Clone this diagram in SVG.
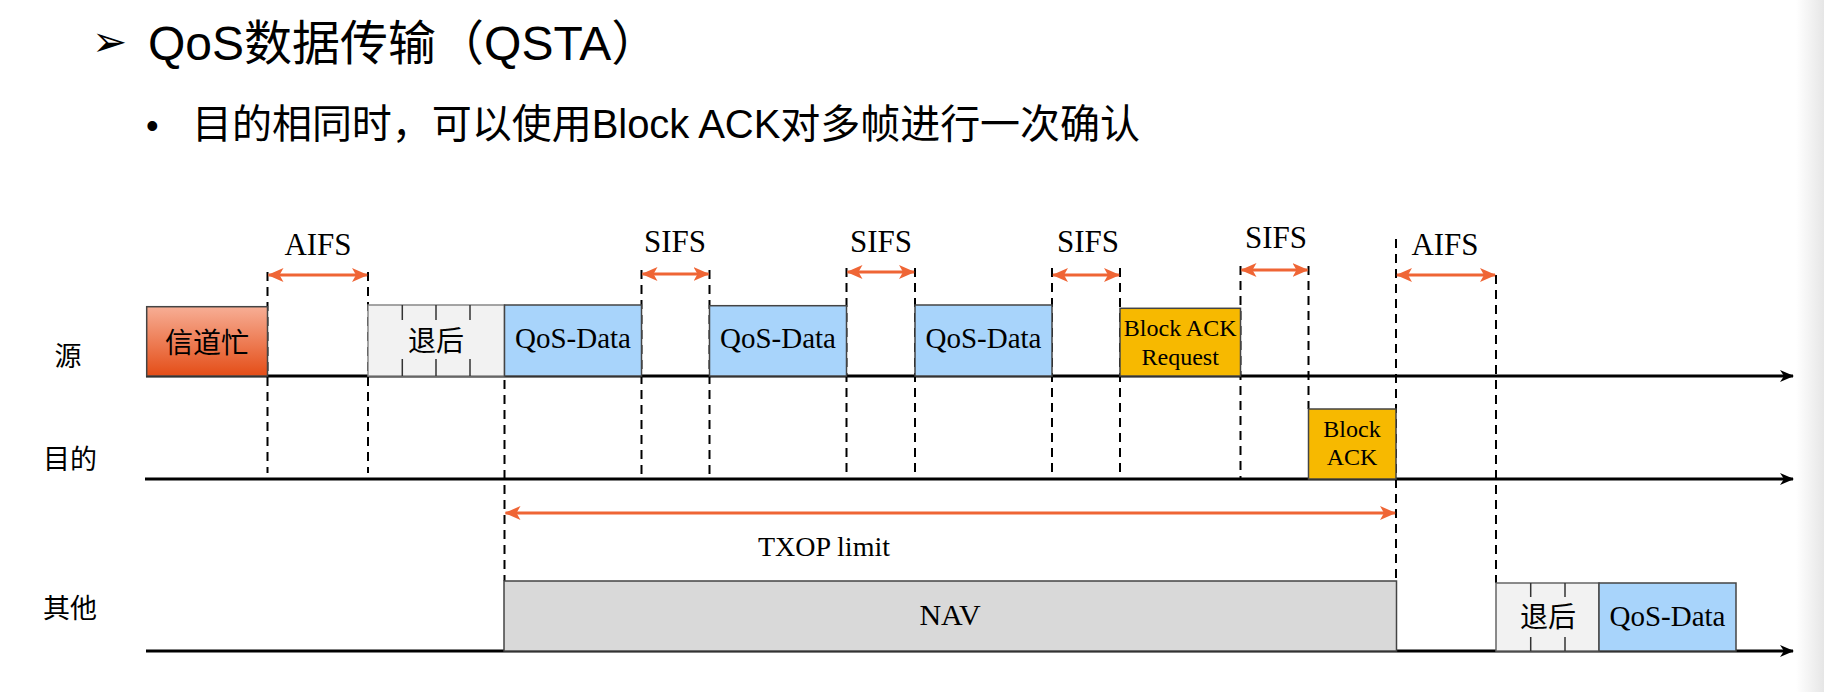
<svg xmlns="http://www.w3.org/2000/svg" width="1824" height="692" viewBox="0 0 1824 692">
<defs>
<style>
.t{font-family:"Liberation Serif","Noto Sans CJK SC",serif;fill:#000}
.h{font-family:"Liberation Sans","Noto Sans CJK SC",sans-serif;fill:#000}
.axis{stroke:#000;stroke-width:3;fill:none}
.dash{stroke:#000;stroke-width:2;stroke-dasharray:9,6;fill:none}
.span{stroke:#ef6535;stroke-width:3;fill:none;marker-start:url(#oh);marker-end:url(#oh)}
.box{stroke:#444;stroke-width:1.5}
.tick{stroke:#333;stroke-width:1.5}
</style>
<marker id="ah" viewBox="0 0 14 12" refX="13" refY="6" markerWidth="14" markerHeight="12" markerUnits="userSpaceOnUse" orient="auto">
<path d="M0,0 L14,6 L0,12 L4,6 Z" fill="#000"/>
</marker>
<marker id="oh" viewBox="0 0 16 14" refX="15" refY="7" markerWidth="16" markerHeight="14" markerUnits="userSpaceOnUse" orient="auto-start-reverse">
<path d="M0,0 L16,7 L0,14 L4,7 Z" fill="#ef6535"/>
</marker>
<linearGradient id="busy" x1="0" y1="0" x2="0" y2="1">
<stop offset="0" stop-color="#f7ae95"/>
<stop offset="1" stop-color="#e44d17"/>
</linearGradient>
<linearGradient id="edge" x1="0" y1="0" x2="1" y2="0">
<stop offset="0" stop-color="#ffffff"/>
<stop offset="1" stop-color="#e6e6e6"/>
</linearGradient>
</defs>
<rect width="1824" height="692" fill="#fff"/>
<rect x="1796" y="0" width="28" height="692" fill="url(#edge)"/>

<g id="title">
<text x="92" y="56" font-family="DejaVu Sans,sans-serif" font-size="42" fill="#000">➢</text>
<text class="h" x="148" y="60" font-size="48">QoS数据传输（QSTA）</text>
</g>
<g id="subtitle">
<text class="h" x="146" y="138" font-size="36">•</text>
<text class="h" x="192" y="138" font-size="40" textLength="948">目的相同时，可以使用Block ACK对多帧进行一次确认</text>
</g>

<g id="row-labels" class="t" font-size="27" text-anchor="middle">
<text x="68" y="366">源</text>
<text x="70" y="469">目的</text>
<text x="70" y="618">其他</text>
</g>

<g id="connectors">
<line class="axis" x1="146" y1="376" x2="1793" y2="376" marker-end="url(#ah)"/>
<line class="axis" x1="145" y1="479" x2="1793" y2="479" marker-end="url(#ah)"/>
<line class="axis" x1="146" y1="651" x2="1793" y2="651" marker-end="url(#ah)"/>

<line class="dash" x1="267.5" y1="272" x2="267.5" y2="473"/>
<line class="dash" x1="368" y1="272" x2="368" y2="473"/>
<line class="dash" x1="504.5" y1="305" x2="504.5" y2="581"/>
<line class="dash" x1="641.5" y1="270" x2="641.5" y2="479"/>
<line class="dash" x1="709.5" y1="270" x2="709.5" y2="479"/>
<line class="dash" x1="846.5" y1="268" x2="846.5" y2="479"/>
<line class="dash" x1="915" y1="268" x2="915" y2="479"/>
<line class="dash" x1="1052" y1="268" x2="1052" y2="479"/>
<line class="dash" x1="1120" y1="268" x2="1120" y2="479"/>
<line class="dash" x1="1240.5" y1="266" x2="1240.5" y2="479"/>
<line class="dash" x1="1308.5" y1="266" x2="1308.5" y2="409"/>
<line class="dash" x1="1396" y1="239" x2="1396" y2="581"/>
<line class="dash" x1="1496" y1="275" x2="1496" y2="583"/>

<line class="span" x1="268.5" y1="275" x2="367" y2="275"/>
<line class="span" x1="642.5" y1="274" x2="708.5" y2="274"/>
<line class="span" x1="847.5" y1="272" x2="914" y2="272"/>
<line class="span" x1="1053" y1="275" x2="1119" y2="275"/>
<line class="span" x1="1241.5" y1="270" x2="1307.5" y2="270"/>
<line class="span" x1="1397" y1="275" x2="1495" y2="275"/>
<line class="span" x1="505.5" y1="513" x2="1395" y2="513"/>
</g>

<g id="span-labels" class="t" font-size="31" text-anchor="middle">
<text x="318" y="255">AIFS</text>
<text x="675" y="252">SIFS</text>
<text x="881" y="252">SIFS</text>
<text x="1088" y="252">SIFS</text>
<text x="1276" y="248">SIFS</text>
<text x="1445" y="255">AIFS</text>
<text x="824" y="556" font-size="28">TXOP limit</text>
</g>

<g id="busy">
<rect class="box" x="146.7" y="306.7" width="120.8" height="69.3" fill="url(#busy)"/>
<text class="t" x="207" y="353" font-size="28" text-anchor="middle">信道忙</text>
</g>

<g id="backoff1">
<rect x="368" y="305" width="136.5" height="71" fill="#f2f2f2" stroke="#888" stroke-width="1.5"/>
<line class="tick" x1="402.3" y1="305" x2="402.3" y2="320"/>
<line class="tick" x1="436" y1="305" x2="436" y2="320"/>
<line class="tick" x1="470" y1="305" x2="470" y2="320"/>
<line class="tick" x1="402.3" y1="359" x2="402.3" y2="376"/>
<line class="tick" x1="436" y1="359" x2="436" y2="376"/>
<line class="tick" x1="470" y1="359" x2="470" y2="376"/>
<text class="t" x="436" y="351" font-size="28" text-anchor="middle">退后</text>
</g>

<g id="data1">
<rect class="box" x="504.5" y="305" width="137" height="71" fill="#a8d4fb"/>
<text class="t" x="573" y="348" font-size="29" text-anchor="middle">QoS-Data</text>
</g>
<g id="data2">
<rect class="box" x="709.5" y="305.7" width="137" height="70.3" fill="#a8d4fb"/>
<text class="t" x="778" y="348" font-size="29" text-anchor="middle">QoS-Data</text>
</g>
<g id="data3">
<rect class="box" x="915" y="305" width="137" height="71" fill="#a8d4fb"/>
<text class="t" x="983.5" y="348" font-size="29" text-anchor="middle">QoS-Data</text>
</g>

<g id="bar">
<rect class="box" x="1120" y="308.3" width="120.5" height="67.7" fill="#f7b900"/>
<text class="t" x="1180.2" y="336" font-size="24" text-anchor="middle">Block ACK</text>
<text class="t" x="1180.2" y="365" font-size="24" text-anchor="middle">Request</text>
</g>

<g id="back">
<rect class="box" x="1308.5" y="409" width="87.5" height="70" fill="#f7b900"/>
<text class="t" x="1352" y="437" font-size="24" text-anchor="middle">Block</text>
<text class="t" x="1352" y="465" font-size="24" text-anchor="middle">ACK</text>
</g>

<g id="nav">
<rect class="box" x="504" y="581" width="892.5" height="70" fill="#d9d9d9"/>
<text class="t" x="950" y="625" font-size="30" text-anchor="middle">NAV</text>
</g>

<g id="backoff2">
<rect x="1496" y="583" width="103" height="68" fill="#f2f2f2" stroke="#666" stroke-width="1.5"/>
<line class="tick" x1="1530.7" y1="583" x2="1530.7" y2="597"/>
<line class="tick" x1="1565" y1="583" x2="1565" y2="597"/>
<line class="tick" x1="1530.7" y1="637" x2="1530.7" y2="651"/>
<line class="tick" x1="1565" y1="637" x2="1565" y2="651"/>
<text class="t" x="1548" y="627" font-size="28" text-anchor="middle">退后</text>
</g>

<g id="data4">
<rect class="box" x="1599" y="583" width="137" height="68" fill="#a8d4fb"/>
<text class="t" x="1667.5" y="626" font-size="29" text-anchor="middle">QoS-Data</text>
</g>
</svg>
